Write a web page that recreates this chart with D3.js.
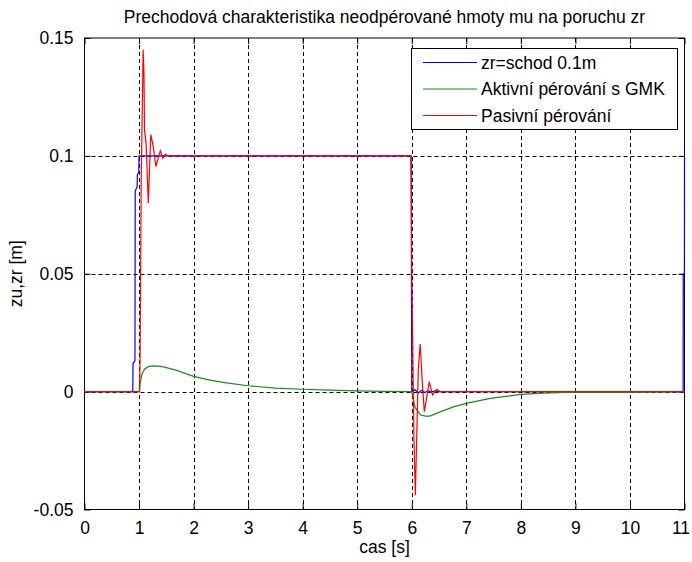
<!DOCTYPE html>
<html>
<head>
<meta charset="utf-8">
<script src="https://cdn.jsdelivr.net/npm/d3@7"></script>
<style>
  html, body { margin: 0; padding: 0; background: #fff; }
  svg { display: block; }
  text { font-family: "Liberation Sans", Arial, Helvetica, sans-serif; fill: #000; }
</style>
</head>
<body>
<svg id="chart" width="692" height="562"></svg>
<script>
// ---- data ----
const titleText = "Prechodová charakteristika neodpérované hmoty mu na poruchu zr";
const xLabel = "cas [s]";
const yLabel = "zu,zr [m]";
const xTicks = [0, 1, 2, 3, 4, 5, 6, 7, 8, 9, 10, 11];
const yTicks = [-0.05, 0, 0.05, 0.1, 0.15];
const yTickLabels = ["-0.05", "0", "0.05", "0.1", "0.15"];
const seriesNames = ["zr=schod 0.1m", "Aktivní pérování s GMK", "Pasivní pérování"];
const seriesColors = ["#0000ff", "#1a8c1a", "#ff0000"];

// zr = step 0.1 m (blue)
const zrT = [0, 0.885, 0.89, 0.925, 0.93, 0.965, 0.97, 0.995, 1.0, 5.985, 5.99, 6.0, 6.06, 6.12, 6.18, 6.24, 6.3, 6.36, 6.42, 6.48, 6.55, 10.975, 10.977, 10.998, 11.0];
const zrV = [0, 0, 0.012, 0.013, 0.085, 0.087, 0.092, 0.093, 0.1, 0.1, 0.092, 0, 0.0008, -0.0006, 0.0006, -0.0004, 0.0004, -0.0002, 0.0003, 0, 0, 0, 0.05, 0.05, 0.1];

// active suspension with GMK (green)
const actT = [0, 1.005, 1.02, 1.05, 1.1, 1.17, 1.26, 1.35, 1.45, 1.69, 2.0, 2.3, 2.6, 3.0, 3.5, 4.0, 4.5, 5.0, 5.5, 6.0, 6.02, 6.06, 6.16, 6.25, 6.33, 6.52, 6.75, 7.0, 7.44, 8.0, 8.4, 8.8, 9.89, 11.0];
const actV = [0, 0, 0.0035, 0.0072, 0.0095, 0.0106, 0.0109, 0.0108, 0.0105, 0.009, 0.0065, 0.0049, 0.0037, 0.0025, 0.0015, 0.001, 0.0006, 0.0003, 0.0001, 0, -0.0022, -0.0067, -0.0099, -0.0104, -0.0104, -0.0086, -0.0066, -0.005, -0.0029, -0.0012, -0.0006, -0.0003, -0.0003, 0];

// passive suspension (red)
const pasT = [0, 1.01, 1.018, 1.04, 1.075, 1.09, 1.1, 1.13, 1.17, 1.215, 1.26, 1.31, 1.35, 1.39, 1.435, 1.48, 1.53, 5.985, 5.99, 6.0, 6.04, 6.065, 6.09, 6.12, 6.155, 6.19, 6.23, 6.27, 6.32, 6.38, 6.46, 6.52, 11.0];
const pasV = [0, 0, 0.012, 0.09, 0.145, 0.135, 0.111, 0.105, 0.08, 0.109, 0.104, 0.0955, 0.099, 0.1022, 0.099, 0.1008, 0.1, 0.1, 0.092, 0.05, -0.02, -0.044, -0.02, 0.01, 0.0202, 0.005, -0.0085, -0.003, 0.0042, -0.0014, 0.001, 0, 0];

// ---- layout ----
const svg = d3.select("#chart");
const L = 84.5, R = 684.5, T = 38, B = 509.5;
const FONT = 17.5;

const x = d3.scaleLinear().domain([0, 11]).range([L, R]);
const y = d3.scaleLinear().domain([-0.05, 0.15]).range([B, T]);

svg.append("rect").attr("x", 0).attr("y", 0).attr("width", 692).attr("height", 562).attr("fill", "#fff");

// grid
const grid = svg.append("g").attr("stroke", "#000").attr("stroke-width", 1).attr("stroke-dasharray", "4,3").attr("fill", "none");
xTicks.filter(t => t > 0 && t < 11).forEach(t => {
  grid.append("line").attr("x1", Math.round(x(t)) + 0.5).attr("x2", Math.round(x(t)) + 0.5).attr("y1", T).attr("y2", B);
});
yTicks.filter(t => t > -0.05 && t < 0.15).forEach(t => {
  grid.append("line").attr("x1", L).attr("x2", R).attr("y1", Math.round(y(t)) + 0.5).attr("y2", Math.round(y(t)) + 0.5);
});

// axes (ticks inside, on all four sides)
const fmtY = d => yTickLabels[yTicks.indexOf(d)];
const axB = d3.axisBottom(x).tickValues(xTicks).tickSize(-6).tickPadding(12).tickFormat(d3.format("d"));
const axT = d3.axisTop(x).tickValues(xTicks).tickSize(-6).tickFormat("");
const axLft = d3.axisLeft(y).tickValues(yTicks).tickSize(-6).tickPadding(11).tickFormat(fmtY);
const axRgt = d3.axisRight(y).tickValues(yTicks).tickSize(-6).tickFormat("");

function styleAxis(g) {
  g.select(".domain").remove();
  g.selectAll(".tick line").attr("stroke", "#000");
  g.selectAll("text").attr("font-size", FONT).attr("font-family", "Liberation Sans, Arial, sans-serif").attr("fill", "#000");
}
const gB = svg.append("g").attr("transform", `translate(0,${B})`).call(axB).call(styleAxis);
gB.selectAll(".tick text").filter(d => d === 11).attr("dx", -4);
svg.append("g").attr("transform", `translate(0,${T})`).call(axT).call(styleAxis);
svg.append("g").attr("transform", `translate(${L},0)`).call(axLft).call(styleAxis);
svg.append("g").attr("transform", `translate(${R},0)`).call(axRgt).call(styleAxis);

// frame
svg.append("rect").attr("x", L).attr("y", T).attr("width", R - L).attr("height", B - T)
  .attr("fill", "none").attr("stroke", "#000").attr("stroke-width", 1);

// data lines (blue, green, red on top)
const line = d3.line().x(d => x(d[0])).y(d => y(d[1]));
const series = [d3.zip(zrT, zrV), d3.zip(actT, actV), d3.zip(pasT, pasV)];
series.forEach((s, i) => {
  svg.append("path").datum(s).attr("d", line)
    .attr("fill", "none").attr("stroke", seriesColors[i]).attr("stroke-width", 1.2)
    .attr("stroke-linejoin", "miter");
});

// title and axis labels
svg.append("text").attr("x", (L + R) / 2).attr("y", 23).attr("text-anchor", "middle")
  .attr("font-size", FONT).text(titleText);
svg.append("text").attr("x", (L + R) / 2).attr("y", 553).attr("text-anchor", "middle")
  .attr("font-size", FONT).text(xLabel);
svg.append("text").attr("transform", `translate(22,${(T + B) / 2}) rotate(-90)`).attr("text-anchor", "middle")
  .attr("font-size", FONT).text(yLabel);

// legend
const lg = svg.append("g");
lg.append("rect").attr("x", 411.5).attr("y", 48.5).attr("width", 266).attr("height", 81)
  .attr("fill", "#fff").attr("stroke", "#000").attr("stroke-width", 1);
const rowY = [62.5, 89, 115.5];
seriesNames.forEach((name, i) => {
  lg.append("line").attr("x1", 423).attr("x2", 477).attr("y1", rowY[i]).attr("y2", rowY[i])
    .attr("stroke", seriesColors[i]).attr("stroke-width", 1.2);
  lg.append("text").attr("x", 481).attr("y", rowY[i]).attr("dy", "0.35em")
    .attr("font-size", FONT).text(name);
});
</script>
</body>
</html>
